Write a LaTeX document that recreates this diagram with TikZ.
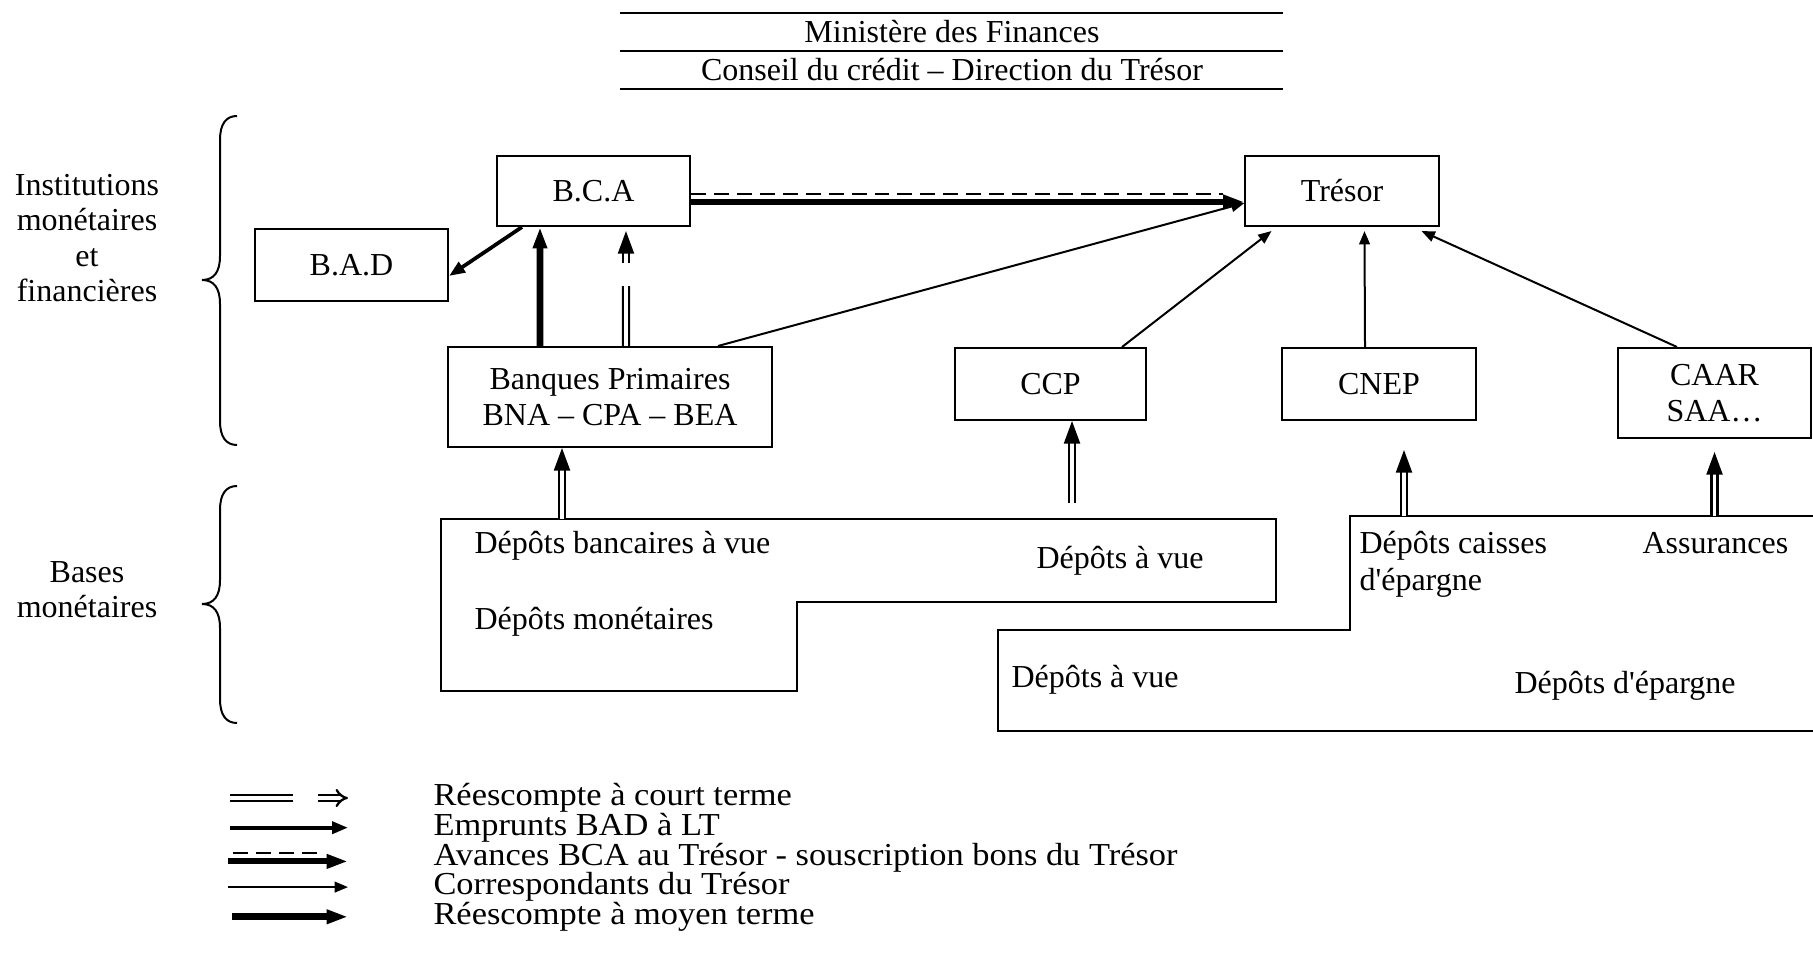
\documentclass[tikz,border=0pt]{standalone}
\usepackage{fontspec}
\setmainfont{Liberation Serif}
\newfontfamily\legendfont[FakeStretch=1.075]{Liberation Serif}
\usetikzlibrary{arrows.meta, positioning, calc}

\begin{document}
\begin{tikzpicture}[x=0.375pt, y=-0.375pt, font=\fontsize{12pt}{13.5pt}\selectfont,
    box/.style={draw, line width=0.75pt, inner sep=0pt, align=center, minimum width=72.4pt, minimum height=27pt},
    txt/.style={anchor=west, inner sep=0pt, align=left},
    outline/.style={line width=0.75pt},
    corr/.style={line width=0.75pt, -{Triangle[length=5pt, width=4pt]}},
    bad/.style={line width=1.4pt, -{Triangle[length=6pt, width=4.5pt]}},
    avance/.style={line width=2.2pt, -{Triangle[length=8pt, width=5pt]}},
    moyen/.style={line width=2.5pt, -{Triangle[length=8pt, width=5pt]}},
    dashline/.style={line width=0.75pt, dash pattern=on 5.6pt off 3pt},
    courtline/.style={double, double distance=1.4pt, line width=0.85pt},
    court/.style={courtline, -{Triangle[length=8.5pt, width=6pt]}}]

    \useasboundingbox (0,0) rectangle (1813,971);

    % Header
    \node (min) at (952,32) {Ministère des Finances};
    \node (cons) at (952,70) {Conseil du crédit – Direction du Trésor};
    \foreach \y in {13,51,89}
        \draw[outline] (620,\y) -- (1283,\y);

    % Side labels and braces
    \node[align=center, font=\fontsize{12pt}{13.2pt}\selectfont] (inst) at (87,238) {Institutions\\monétaires\\et\\financières};
    \node[align=center, font=\fontsize{12pt}{13.2pt}\selectfont] (bases) at (87,590) {Bases\\monétaires};
    \foreach \t/\m/\b in {116/280/445, 486/604/723}
        \draw[outline] (237,\t) .. controls (226,\t) and (220,{\t+8}) .. (220,{\t+24})
            -- (220,{\m-24}) .. controls (220,{\m-8}) and (214,\m) .. (202,\m)
            .. controls (214,\m) and (220,{\m+8}) .. (220,{\m+24})
            -- (220,{\b-24}) .. controls (220,{\b-8}) and (226,\b) .. (237,\b);

    % Institutions
    \node[box, minimum height=26.3pt] (bca) at (593.5,191) {B.C.A};
    \node[box, minimum height=26.3pt] (tr) at (1342,191) {Trésor};
    \node[box] (bad) at (351.5,265) {B.A.D};
    \node[box, minimum width=121.5pt, minimum height=37.5pt] (bq) at (610,397) {Banques Primaires\\BNA – CPA – BEA};
    \node[box, minimum width=71.6pt] (ccp) at (1050.5,384) {CCP};
    \node[box, minimum width=72.75pt] (cnep) at (1379,384) {CNEP};
    \node[box, minimum height=33.75pt] (caar) at (1714.5,393) {CAAR\\SAA…};

    % Deposits
    \draw[outline] (441,519) -- (1276,519) -- (1276,602) -- (797,602) -- (797,691) -- (441,691) -- cycle;
    \draw[outline] (1813,516) -- (1350,516) -- (1350,630) -- (998,630) -- (998,731) -- (1813,731);
    \node[txt] (dbv) at (474,546) {Dépôts bancaires à vue};
    \node[txt] (dmo) at (474,622) {Dépôts monétaires};
    \node[txt] (dv1) at (1036,561) {Dépôts à vue};
    \node[txt, font=\fontsize{12pt}{13.9pt}\selectfont] (dce) at (1359,564.5) {Dépôts caisses\\d\textquotesingle épargne};
    \node[txt] (ass) at (1642,543) {Assurances};
    \node[txt] (dv2) at (1011,680) {Dépôts à vue};
    \node[txt] (dep) at (1514,686) {Dépôts d\textquotesingle épargne};

    % Edges
    \draw[bad] ($(bca.south west)+(26,0)$) -- ($(bad.east)+(0,11)$);
    \draw[moyen] ($(bq.north west)+(93,0)$) -- ($(bca.south west)+(44,0)$);
    \draw[courtline] ($(bq.north west)+(179,0)$) -- ($(bca.south west)+(130,59)$);
    \draw[court] ($(bca.south west)+(130,36)$) -- ($(bca.south west)+(130,4)$);
    \draw[corr] ($(bq.north west)+(271,0)$) -- ($(tr.west)+(0,12)$);
    \draw[dashline] ($(bca.east)+(0,3)$) -- ($(tr.west)+(-21,3)$);
    \draw[avance] ($(bca.east)+(0,11)$) -- ($(tr.west)+(0,11)$);
    \draw[corr] ($(ccp.north west)+(168,0)$) -- ($(tr.south west)+(27,4)$);
    \draw[corr] ($(cnep.north west)+(84,0)$) -- ($(tr.south west)+(120,4)$);
    \draw[corr] ($(caar.north west)+(60,0)$) -- ($(tr.south east)+(-18,4)$);

    \coordinate (kba) at (562,519);
    \coordinate (kvu) at (1072,503);
    \coordinate (kce) at (1404,516);
    \coordinate (kas) at (1714.5,516);
    \draw[court] (kba) -- (kba |- bq.south);
    \draw[court] (kvu) -- (kvu |- ccp.south);
    \draw[court] (kce) -- ($(cnep.south)+(25,29)$);
    \draw[court] (kas) -- ($(caar.south)+(0,13)$);

    % Legend
    \foreach \t [count=\i] in {Réescompte à court terme, Emprunts BAD à LT,
        Avances BCA au Trésor - souscription bons du Trésor,
        Correspondants du Trésor, Réescompte à moyen terme}
        \node[txt, font=\legendfont\fontsize{12pt}{13.5pt}\selectfont] (l\i) at (433,{768.3+29.7*\i}) {\t};
    \draw[courtline] ($(l1.west)+(-203,0)$) -- ($(l1.west)+(-140,0)$);
    \draw[courtline, -{Implies}] ($(l1.west)+(-115,0)$) -- ($(l1.west)+(-85,0)$);
    \draw[bad] ($(l2.west)+(-203,0)$) -- ($(l2.west)+(-85,0)$);
    \draw[dashline] ($(l3.west)+(-200,-4)$) -- ($(l3.west)+(-111,-4)$);
    \draw[avance] ($(l3.west)+(-205,4)$) -- ($(l3.west)+(-85,4)$);
    \draw[corr] ($(l4.west)+(-205,0)$) -- ($(l4.west)+(-85,0)$);
    \draw[moyen] ($(l5.west)+(-201,0)$) -- ($(l5.west)+(-85,0)$);

\end{tikzpicture}
\end{document}
